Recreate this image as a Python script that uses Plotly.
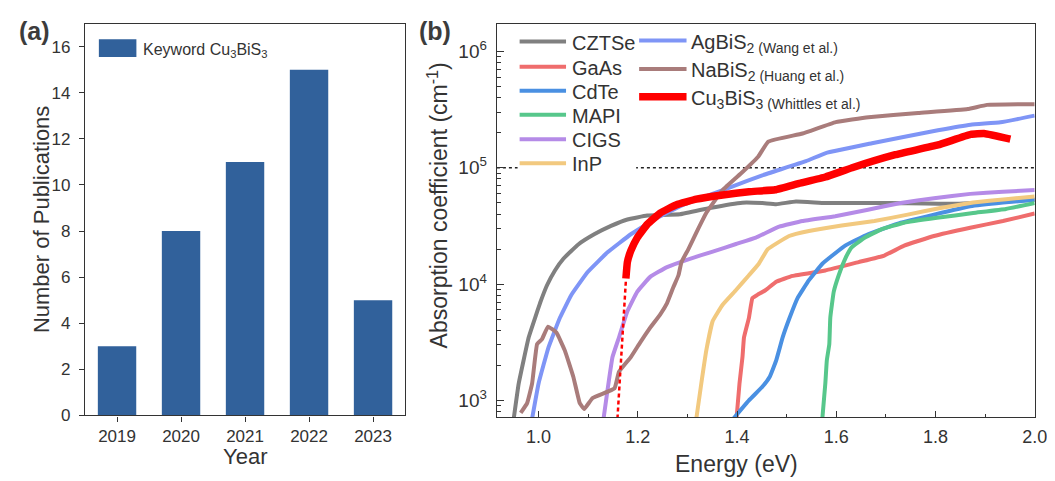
import plotly.graph_objects as go

W, H = 1055, 481
FONT = "Liberation Sans, Arial, sans-serif"
TXT = "#333333"

# ---------------- panel (a) data ----------------
years = ["2019", "2020", "2021", "2022", "2023"]
publications = [3, 8, 11, 15, 5]
bar_color = "#31619b"

# ---------------- panel (b) data ----------------
czts_e = [0.950, 0.960, 0.980, 0.993, 1.003, 1.017, 1.033, 1.050, 1.080, 1.113, 1.146, 1.179, 1.219, 1.285, 1.345, 1.411, 1.451, 1.479, 1.519, 1.578, 1.711, 1.843, 2.000]
czts_a = [700, 1400, 3470, 5130, 6870, 9770, 13100, 16500, 21900, 26900, 31600, 35900, 38800, 39800, 45100, 50100, 49700, 48600, 51300, 49700, 49700, 49000, 53000]

gaas_e = [1.399, 1.405, 1.411, 1.414, 1.424, 1.431, 1.441, 1.458, 1.479, 1.512, 1.578, 1.645, 1.697, 1.737, 1.797, 1.870, 1.936, 2.000]
gaas_a = [700, 1400, 2360, 3470, 5130, 7570, 8070, 8890, 10470, 11750, 13100, 15450, 17600, 21400, 25900, 30500, 34800, 40400]

cdte_e = [1.393, 1.424, 1.451, 1.466, 1.479, 1.492, 1.506, 1.522, 1.545, 1.572, 1.618, 1.664, 1.730, 1.797, 1.870, 1.936, 2.000]
cdte_a = [700, 1000, 1310, 1600, 2210, 3480, 5130, 7570, 10800, 14960, 21400, 26800, 33700, 39500, 46600, 50200, 53000]

mapi_e = [1.572, 1.578, 1.581, 1.586, 1.588, 1.595, 1.605, 1.618, 1.631, 1.658, 1.691, 1.737, 1.803, 1.876, 1.942, 2.000]
mapi_a = [700, 1400, 2210, 3050, 5130, 8610, 11910, 16500, 20700, 25100, 29500, 33700, 37100, 40800, 44200, 49700]

cigs_e = [1.131, 1.139, 1.149, 1.162, 1.179, 1.199, 1.225, 1.259, 1.305, 1.351, 1.398, 1.438, 1.485, 1.532, 1.598, 1.664, 1.730, 1.797, 1.870, 1.936, 2.000]
cigs_a = [700, 1230, 2360, 3470, 5830, 8610, 11530, 14000, 16500, 19000, 22100, 25100, 31100, 34800, 38300, 43600, 49700, 54700, 59600, 62200, 64300]

inp_e = [1.318, 1.328, 1.338, 1.351, 1.371, 1.398, 1.424, 1.444, 1.462, 1.505, 1.545, 1.611, 1.677, 1.744, 1.810, 1.876, 1.942, 2.000]
inp_a = [700, 1400, 2680, 4810, 6650, 8890, 11910, 14960, 19950, 25900, 28600, 31900, 34800, 39500, 45100, 50200, 53700, 56500]

agbis_e = [0.987, 1.000, 1.020, 1.043, 1.066, 1.099, 1.139, 1.186, 1.239, 1.292, 1.345, 1.398, 1.451, 1.539, 1.579, 1.672, 1.738, 1.805, 1.871, 1.931, 2.000]
agbis_a = [700, 1400, 2860, 5130, 8070, 12700, 18750, 26800, 37100, 48100, 58300, 71000, 86100, 113800, 133700, 162200, 184500, 209900, 234400, 245500, 280500]

nabis_e = [0.964, 0.977, 0.987, 0.997, 1.007, 1.019, 1.036, 1.053, 1.070, 1.083, 1.092, 1.109, 1.153, 1.162, 1.186, 1.205, 1.225, 1.245, 1.259, 1.272, 1.282, 1.288, 1.302, 1.318, 1.338, 1.371, 1.411, 1.443, 1.463, 1.532, 1.599, 1.665, 1.765, 1.865, 1.904, 2.000]
nabis_a = [782, 948, 1400, 3050, 3370, 4310, 3830, 2680, 1600, 948, 845, 1050, 1270, 1760, 2360, 3160, 4220, 5470, 6870, 9480, 11910, 15450, 20000, 27700, 40800, 64300, 91800, 125000, 167500, 196800, 246600, 271600, 295100, 319200, 346700, 351600]

cubis_e = [1.176, 1.179, 1.186, 1.199, 1.219, 1.245, 1.278, 1.318, 1.371, 1.424, 1.477, 1.525, 1.578, 1.632, 1.719, 1.805, 1.871, 1.898, 1.951]
cubis_a = [11170, 15450, 19360, 25100, 32600, 40800, 48100, 53700, 58300, 62200, 64600, 73300, 83200, 100000, 129400, 157000, 193200, 196800, 176200]

cubis_ext_e = [1.159, 1.176]
cubis_ext_a = [700, 10700]

ref_level = 1e5
energy_range = [0.916, 2.0]
alpha_log_range = [2.855, 6.238]

series = [
    ("CZTSe", czts_e, czts_a, "#808080", 4),
    ("GaAs", gaas_e, gaas_a, "#ef6d6d", 4),
    ("CdTe", cdte_e, cdte_a, "#4a90e2", 4),
    ("MAPI", mapi_e, mapi_a, "#57c78b", 4),
    ("CIGS", cigs_e, cigs_a, "#b58be7", 4),
    ("InP", inp_e, inp_a, "#f2c97f", 4),
    ("AgBiS2", agbis_e, agbis_a, "#7f95f6", 4),
    ("NaBiS2", nabis_e, nabis_a, "#a97c7b", 4),
    ("Cu3BiS3", cubis_e, cubis_a, "#ff0000", 7.5),
]

legend_col1 = [("CZTSe", "CZTSe"), ("GaAs", "GaAs"), ("CdTe", "CdTe"),
               ("MAPI", "MAPI"), ("CIGS", "CIGS"), ("InP", "InP")]
legend_col2 = [("AgBiS2", "AgBiS<sub>2 (Wang et al.)</sub>"),
               ("NaBiS2", "NaBiS<sub>2 (Huang et al.)</sub>"),
               ("Cu3BiS3", "Cu<sub>3</sub>BiS<sub>3 (Whittles et al.)</sub>")]


def px(x):
    return x / W


def py(y):
    return 1 - y / H


fig = go.Figure()

# panel (a)
fig.add_trace(go.Bar(x=years, y=publications, marker_color=bar_color, width=0.6,
                     marker_line_width=0, showlegend=False, xaxis="x", yaxis="y"))

# panel (b) reference line
fig.add_trace(go.Scatter(x=energy_range, y=[ref_level, ref_level], mode="lines",
                         line=dict(color="#222222", width=1.6, dash="3px,3px"),
                         showlegend=False, xaxis="x2", yaxis="y2"))

style = {}
for name, e, a, col, wdt in series:
    style[name] = (col, wdt)
    fig.add_trace(go.Scatter(x=e, y=a, mode="lines", name=name,
                             line=dict(color=col, width=wdt, shape="spline", smoothing=0.3),
                             showlegend=False, xaxis="x2", yaxis="y2"))

fig.add_trace(go.Scatter(x=cubis_ext_e, y=cubis_ext_a, mode="lines",
                         line=dict(color="#ff0000", width=2.5, dash="4px,3px"),
                         showlegend=False, xaxis="x2", yaxis="y2"))

axis_common = dict(showline=True, linecolor=TXT, linewidth=1.4, mirror=True,
                   showgrid=False, zeroline=False, tickcolor=TXT,
                   tickfont=dict(family=FONT, size=17, color=TXT))

fig.update_layout(
    width=W, height=H, margin=dict(l=0, r=0, t=0, b=0),
    paper_bgcolor="white", plot_bgcolor="white",
    font=dict(family=FONT, color=TXT),
    xaxis=dict(domain=[px(78), px(402)], anchor="y", type="category",
               range=[-0.5, 4.5], ticks="outside", ticklen=5, tickwidth=1.3,
               **axis_common),
    yaxis=dict(domain=[py(416), py(16)], anchor="x", range=[0, 17],
               tickvals=[0, 2, 4, 6, 8, 10, 12, 14, 16],
               ticks="outside", ticklen=5, tickwidth=1.3, ticklabelstandoff=5,
               **axis_common),
    xaxis2=dict(domain=[px(495), px(1039.5)], anchor="y2", range=energy_range,
                tick0=1.0, dtick=0.2, tickformat=".1f", ticks="inside",
                ticklen=6, tickwidth=1.3, ticklabelstandoff=3,
                minor=dict(ticks="inside", ticklen=3.5, dtick=0.1, tick0=1.0, tickcolor=TXT),
                **{**axis_common, "tickfont": dict(family=FONT, size=18, color=TXT)}),
    yaxis2=dict(domain=[py(418), py(16)], anchor="x2", type="log",
                range=alpha_log_range,
                tickvals=[1e3, 1e4, 1e5, 1e6],
                ticktext=["10<sup>3</sup>", "10<sup>4</sup>", "10<sup>5</sup>", "10<sup>6</sup>"],
                ticks="inside", ticklen=7, tickwidth=1.3, ticklabelstandoff=5,
                minor=dict(ticks="inside", ticklen=4, tickcolor=TXT, dtick="D1"),
                **{**axis_common, "tickfont": dict(family=FONT, size=19, color=TXT)}),
)

shapes = []
ann = []


def text(t, x, y, size, xanchor="center", angle=0, color=TXT):
    ann.append(dict(text=t, x=px(x), y=py(y), xref="paper", yref="paper",
                    xanchor=xanchor, yanchor="middle", textangle=angle,
                    showarrow=False, font=dict(family=FONT, size=size, color=color)))


# axis titles
text("Year", 240, 458, 22)
text("Number of Publications", 34, 216, 22, angle=-90)
text("Energy (eV)", 738, 466, 23)
text("Absorption coefficient (cm<sup>-1</sup>)", 435, 202, 23, angle=-90)

# panel labels
text("<b>(a)</b>", 27, 23, 25, color="#3c3c3c")
text("<b>(b)</b>", 432, 23, 25, color="#3c3c3c")

# legend (a)
shapes.append(dict(type="rect", xref="paper", yref="paper", x0=px(92), x1=px(130),
                   y0=py(50), y1=py(32), fillcolor=bar_color, line=dict(width=0)))
text("Keyword Cu<sub>3</sub>BiS<sub>3</sub>", 135, 43, 16, xanchor="left")

# legend (b) background (hides the reference line)
shapes.append(dict(type="rect", xref="paper", yref="paper", x0=px(516), x1=px(636),
                   y0=py(172), y1=py(20), fillcolor="white", line=dict(width=0), layer="above"))

rows1 = [34.3, 60, 84.5, 109, 134, 158.5]
for (key, label), yy in zip(legend_col1, rows1):
    col, wdt = style[key]
    shapes.append(dict(type="line", xref="paper", yref="paper", x0=px(518), x1=px(565),
                       y0=py(yy), y1=py(yy), line=dict(color=col, width=wdt), layer="above"))
    text(label, 569, yy + 1, 20, xanchor="left")

rows2 = [33.3, 62.3, 90.7]
for (key, label), yy in zip(legend_col2, rows2):
    col, wdt = style[key]
    shapes.append(dict(type="line", xref="paper", yref="paper", x0=px(639), x1=px(687),
                       y0=py(yy), y1=py(yy), line=dict(color=col, width=wdt), layer="above"))
    text(label, 690, yy + 3, 20, xanchor="left")

fig.update_layout(shapes=shapes, annotations=ann)
fig.write_html("out.html")
